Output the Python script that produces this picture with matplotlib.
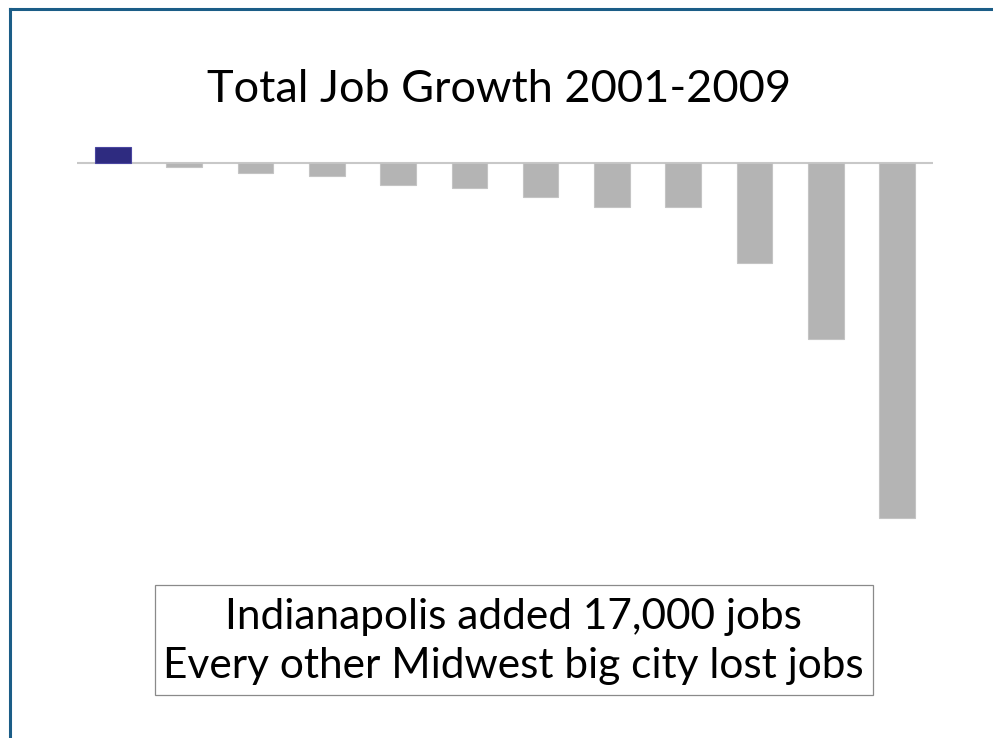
import matplotlib
matplotlib.use("Agg")
import matplotlib.pyplot as plt
from matplotlib.patches import Rectangle
from matplotlib.lines import Line2D

# Data (jobs change 2001-2009)
cities = ["Indianapolis", "City 2", "City 3", "City 4", "City 5", "City 6",
          "City 7", "City 8", "City 9", "City 10", "City 11", "City 12"]
job_change = [17000, -3500, -10200, -12900, -22100, -25500,
              -34300, -44500, -44500, -101800, -179200, -360800]
bar_colors = ["#2e2b80"] + ["#b4b4b4"] * 11
edge_colors = ["#4a46a0"] + ["#c4c4c4"] * 11

title = "Total Job Growth 2001-2009"
note_lines = ["Indianapolis added 17,000 jobs", "Every other Midwest big city lost jobs"]

W, H = 993, 738
fig = plt.figure(figsize=(W / 100, H / 100), dpi=100)
fig.patch.set_facecolor("white")

# Axes placement in pixels
left_px, right_px = 77, 933
top_px, bottom_px = 140, 530
zero_px = 163.3
per_px = 1018.0
ax = fig.add_axes([left_px / W, 1 - bottom_px / H, (right_px - left_px) / W,
                   (bottom_px - top_px) / H])
ax.set_xlim(-0.5, len(cities) - 0.5)
ax.set_ylim(-(bottom_px - zero_px) * per_px, (zero_px - top_px) * per_px)
ax.axis("off")

ax.axhline(0, color="#c8c8c8", lw=1.5, zorder=1)
ax.bar(range(len(cities)), job_change, width=0.5, color=bar_colors,
       edgecolor=edge_colors, linewidth=0.8, zorder=2)

font = "Lato"
fig.text(499 / W, 1 - 89 / H, title, ha="center", va="center",
         fontsize=32.5, family=font, color="black")

# Note box
bx0, bx1, by0, by1 = 155, 873, 585, 695
fig.add_artist(Rectangle((bx0 / W, 1 - by1 / H), (bx1 - bx0) / W, (by1 - by0) / H,
                         transform=fig.transFigure, facecolor="white",
                         edgecolor="#8a8a8a", linewidth=0.9))
fig.text(513 / W, 1 - 617 / H, note_lines[0], ha="center", va="center",
         fontsize=30.5, family=font, color="black")
fig.text(513 / W, 1 - 666 / H, note_lines[1], ha="center", va="center",
         fontsize=30.5, family=font, color="black")

# Frame (top and left)
fc = "#1b5d87"
fig.add_artist(Line2D([9.5 / W, 1.0], [1 - 8.5 / H, 1 - 8.5 / H],
                      transform=fig.transFigure, color=fc, lw=2.2))
fig.add_artist(Line2D([9.5 / W, 9.5 / W], [0, 1 - 8.5 / H],
                      transform=fig.transFigure, color=fc, lw=2.2))

fig.savefig("out.png", dpi=100)
